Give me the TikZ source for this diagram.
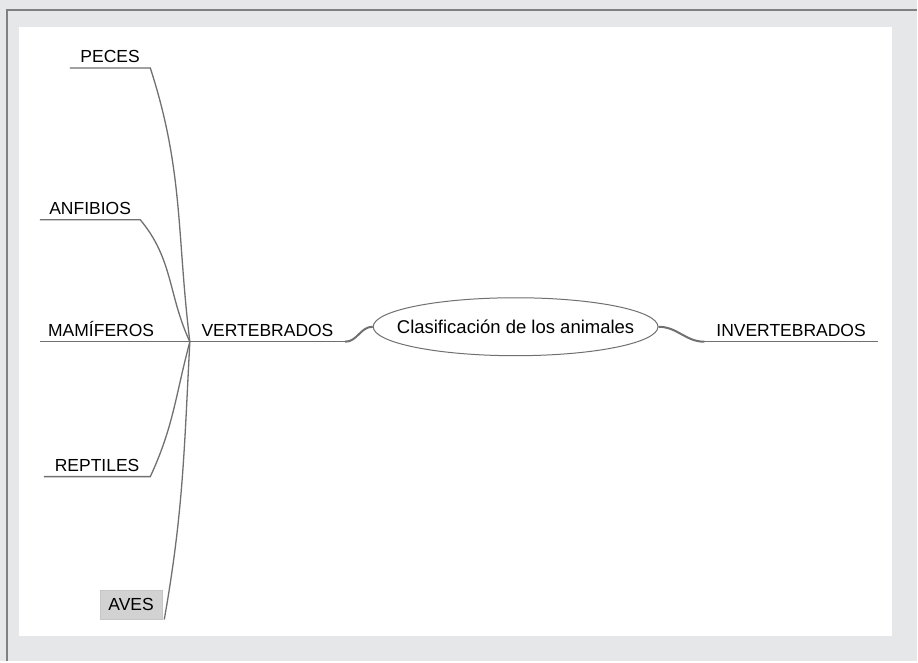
\documentclass[tikz,border=0pt]{standalone}
\usepackage{fontspec}
\setmainfont{Liberation Sans}
\usetikzlibrary{shapes.geometric}
\definecolor{bggray}{RGB}{230,231,233}
\definecolor{linegray}{RGB}{112,112,112}
\definecolor{boxgray}{RGB}{210,210,210}
\tikzset{
  rama/.style={anchor=south west, inner xsep=0pt, inner ysep=5pt, text depth=0pt,
    font=\fontsize{17.5}{20}\selectfont},
  enlace/.style={draw=linegray, line width=1.3pt},
}
\def\hubx{190}
\def\huby{342}

\begin{document}
\begin{tikzpicture}[x=1pt,y=-1pt]
  \fill[bggray] (0,0) rectangle (918,662);
  \draw[draw=gray, line width=1.5pt] (7,662) -- (7,10) -- (918,10);
  \fill[white] (19,27) rectangle (893,637);

  \coordinate (hub) at (\hubx,\huby);
  \node[ellipse, draw=linegray, line width=1pt, minimum width=285pt, minimum height=58pt,
    inner xsep=-40pt, inner ysep=0pt, font=\fontsize{18.5}{21}\selectfont] (raiz) at (516,327) {Clasificación de los animales};

  \node[rama, minimum width=155pt] (vert) at (\hubx,\huby) {VERTEBRADOS};
  \node[rama, minimum width=173pt] (invert) at (705,342) {INVERTEBRADOS};
  \node[rama, minimum width=80pt] (peces) at (70,68) {PECES};
  \node[rama, minimum width=100pt] (anfibios) at (40,220) {ANFIBIOS};
  \node[rama, minimum width=122pt] (mamiferos) at (40,342) {MAMÍFEROS};
  \node[rama, minimum width=106pt] (reptiles) at (44,477) {REPTILES};
  \node[rama, anchor=south west, fill=boxgray, draw=gray!45, minimum width=62pt,
    minimum height=29pt, inner ysep=0pt] (aves) at (100,620) {AVES};

  \draw[enlace] (hub) -- (vert.south east);
  \draw[enlace, line width=2pt] (vert.south east) to[out=0,in=180] (raiz.west);
  \draw[enlace, line width=2pt] (raiz.east) to[out=0,in=180] (invert.south west);
  \draw[enlace] (invert.south west) -- (invert.south east);

  \draw[enlace] (peces.south west) -- (peces.south east) to[out=-72,in=97] (hub);
  \draw[enlace] (anfibios.south west) -- (anfibios.south east) to[out=-50,in=115] (hub);
  \draw[enlace] (mamiferos.south west) -- (hub);
  \draw[enlace] (reptiles.south west) -- (reptiles.south east) to[out=65,in=-105] (hub);
  \draw[enlace] (aves.south east) ++(2,0) coordinate (avesR) (avesR) to[out=80,in=-93] (hub);
\end{tikzpicture}
\end{document}
